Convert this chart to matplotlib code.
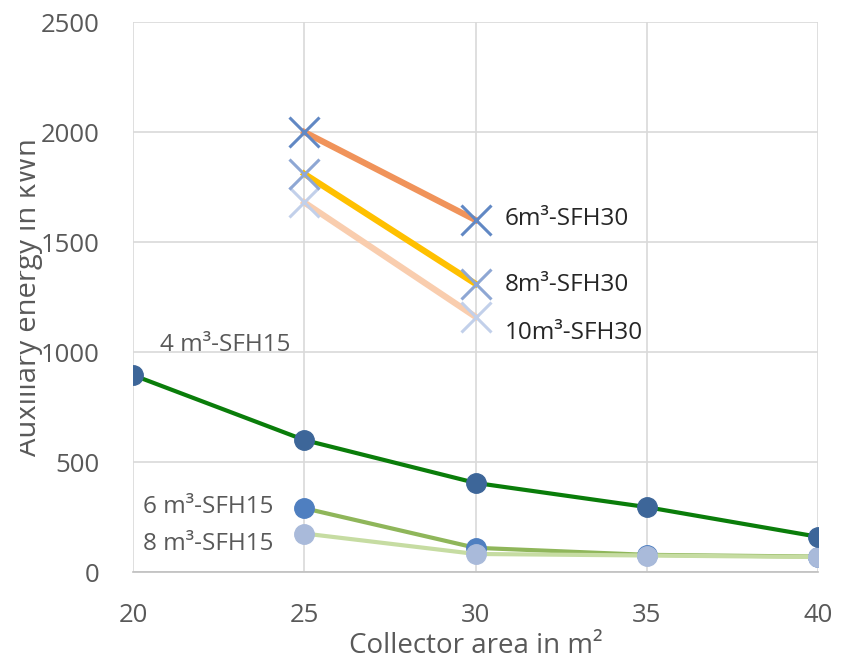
import numpy as np
import matplotlib.pyplot as plt
from matplotlib.transforms import Bbox, TransformedBbox

plt.rcParams['font.family'] = ['Open Sans', 'DejaVu Sans']

# collector areas in m2
area_all = [20, 25, 30, 35, 40]
area_part = [25, 30]

# auxiliary energy in kWh
sfh15_4m3 = [895, 600, 405, 295, 160]
sfh15_6m3 = [None, 290, 110, 78, 70]
sfh15_8m3 = [None, 175, 82, 75, 68]
sfh30_6m3 = [2000, 1600]
sfh30_8m3 = [1810, 1310]
sfh30_10m3 = [1680, 1160]

grey = '#595959'

fig = plt.figure(figsize=(8.5, 6.61), dpi=100)
ax = fig.add_axes([133/850, 1-572/661, (818-133)/850, (572-22)/661])

# SFH15 lines with round markers
x6 = area_all[1:]
ax.plot(area_all, sfh15_4m3, color='#0a7d0a', lw=3, marker='o', ms=14,
        mfc='#3d6699', mec='#3d6699', zorder=5)
ax.plot(x6, sfh15_6m3[1:], color='#8fb65a', lw=3, marker='o', ms=14,
        mfc='#4f7fc0', mec='#4f7fc0', zorder=4)
ax.plot(x6, sfh15_8m3[1:], color='#c6dca2', lw=3, marker='o', ms=14,
        mfc='#a9bada', mec='#a9bada', zorder=4.5)

# SFH30 lines with cross markers
ax.plot(area_part, sfh30_10m3, color='#f9cdae', lw=4.5, zorder=3)
ax.plot(area_part, sfh30_8m3, color='#ffc000', lw=4.5, zorder=3)
ax.plot(area_part, sfh30_6m3, color='#f0935a', lw=4.5, zorder=3)
ax.plot(area_part, sfh30_10m3, ls='none', marker='x', ms=21, mew=2.2,
        color='#c2d0ea', zorder=6)
ax.plot(area_part, sfh30_8m3, ls='none', marker='x', ms=21, mew=2.2,
        color='#8ea7d4', zorder=6)
ax.plot(area_part, sfh30_6m3, ls='none', marker='x', ms=21, mew=2.2,
        color='#6188c4', zorder=6)

# series labels
fs = 17.5
ax.text(20.8, 1030, '4 m³-SFH15', fontsize=fs, color=grey, va='center')
ax.text(20.3, 295, '6 m³-SFH15', fontsize=fs, color=grey, va='center')
ax.text(20.3, 125, '8 m³-SFH15', fontsize=fs, color=grey, va='center')
ax.text(30.85, 1605, '6m³-SFH30', fontsize=fs, color='#262626', va='center')
ax.text(30.85, 1305, '8m³-SFH30', fontsize=fs, color='#262626', va='center')
ax.text(30.85, 1088, '10m³-SFH30', fontsize=fs, color='#262626', va='center')

ax.set_xlim(20, 40)
ax.set_ylim(0, 2500)
ax.set_xticks([20, 25, 30, 35, 40])
ax.set_yticks([0, 500, 1000, 1500, 2000, 2500])
ax.grid(True, color='#d9d9d9', lw=1.2)
ax.set_axisbelow(True)
for s in ['top', 'right', 'left']:
    ax.spines[s].set_visible(False)
ax.spines['bottom'].set_color('#bfbfbf')
ax.spines['bottom'].set_linewidth(1.2)
ax.tick_params(length=0, labelsize=18.5, labelcolor=grey)
ax.tick_params(axis='x', pad=22)
ax.tick_params(axis='y', pad=24)
ax.set_xlabel('Collector area in m²', fontsize=20, color=grey, labelpad=3)

# y label, partly cut off at the left as in the source image
yl = fig.text(43/850, 1-297/661, 'Auxiliary energy in kWh', rotation=90,
              fontsize=21, color=grey, ha='right', va='center')
yl.set_clip_box(TransformedBbox(Bbox([[20/850, 0], [1, 1]]), fig.transFigure))
yl.set_clip_on(True)

fig.savefig('out.png', dpi=100)
